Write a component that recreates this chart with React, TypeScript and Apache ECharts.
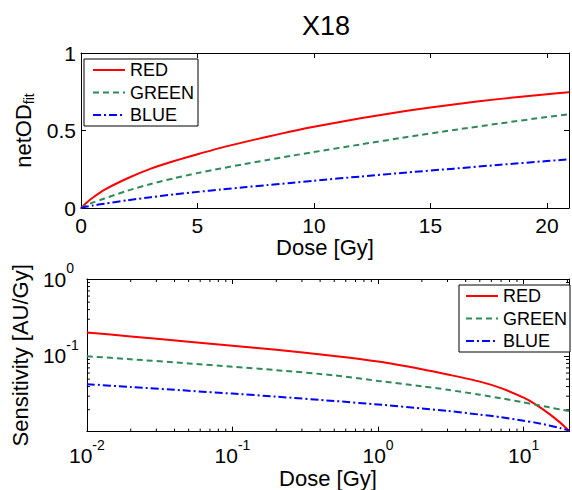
import React, { useEffect, useRef } from 'react';
import * as echarts from 'echarts';

const FONT = 'Liberation Sans';

const seriesNames = ['RED', 'GREEN', 'BLUE'];
const seriesColors = ['#ff0000', '#2e8b57', '#0000ff'];
const seriesDash: any[] = ['solid', [6, 4], [8, 3, 2, 3]];

// Top panel: netOD_fit vs dose (linear axes)
const linDose = [0, 0.25, 0.5, 1, 2, 3, 4, 5, 6, 7, 8, 9, 10, 12, 14, 16, 18, 20, 20.95];
const netODRed = [0, 0.036, 0.066, 0.117, 0.192, 0.254, 0.303, 0.347, 0.388, 0.425, 0.46, 0.493, 0.524, 0.579, 0.627, 0.668, 0.704, 0.734, 0.746];
const netODGreen = [0, 0.02, 0.035, 0.061, 0.112, 0.155, 0.192, 0.225, 0.255, 0.283, 0.31, 0.336, 0.361, 0.41, 0.458, 0.503, 0.546, 0.587, 0.605];
const netODBlue = [0, 0.009, 0.016, 0.028, 0.05, 0.07, 0.088, 0.104, 0.119, 0.134, 0.148, 0.162, 0.176, 0.203, 0.229, 0.254, 0.279, 0.303, 0.314];

// Bottom panel: sensitivity vs dose (log axes)
const logDose = [0.01, 0.02, 0.05, 0.1, 0.2, 0.5, 1, 2, 3, 5, 7, 10, 12, 15, 18, 20.5];
const sensRed = [0.2018, 0.1795, 0.1535, 0.1359, 0.12, 0.0999, 0.0846, 0.0673, 0.0575, 0.0464, 0.0382, 0.0287, 0.0237, 0.0177, 0.0134, 0.0106];
const sensGreen = [0.0991, 0.0906, 0.08, 0.0726, 0.0654, 0.056, 0.0474, 0.0404, 0.0364, 0.0314, 0.0282, 0.0249, 0.0233, 0.0215, 0.0201, 0.0192];
const sensBlue = [0.043, 0.0395, 0.0353, 0.0324, 0.0296, 0.026, 0.0234, 0.0208, 0.0193, 0.0173, 0.016, 0.0144, 0.0136, 0.0125, 0.0115, 0.0108];

const linXMax = 20.95;
const logXMin = 0.01;
const logXMax = 20.5;
const logYMin = 0.0104;
const logYMax = 1;

const xMinorTicks = [0.02, 0.03, 0.04, 0.05, 0.06, 0.07, 0.08, 0.09, 0.2, 0.3, 0.4, 0.5, 0.6, 0.7, 0.8, 0.9, 2, 3, 4, 5, 6, 7, 8, 9, 20];
const yMinorTicks = [0.02, 0.03, 0.04, 0.05, 0.06, 0.07, 0.08, 0.09, 0.2, 0.3, 0.4, 0.5, 0.6, 0.7, 0.8, 0.9];

const powLabel = (v: number) => {
  const e = Math.log10(v);
  const r = Math.round(e);
  if (Math.abs(e - r) > 1e-6) return '';
  return `{b|10}{s|${r < 0 ? '-' : ''}${Math.abs(r)}}`;
};
const powRich = {
  b: { fontSize: 21, lineHeight: 36, fontFamily: FONT, color: '#000' },
  s: { fontSize: 14, lineHeight: 14, verticalAlign: 'top', fontFamily: FONT, color: '#000' },
};

const axisLine = { show: true, onZero: false, lineStyle: { color: '#000', width: 1 } };
const tickIn = { show: true, inside: true, length: 5, lineStyle: { color: '#000', width: 1 } };
const nameStyle = { fontSize: 22, lineHeight: 22, fontFamily: FONT, color: '#000' };

export default function App() {
  const ref = useRef<HTMLDivElement>(null);
  useEffect(() => {
    if (!ref.current) return;
    const chart = echarts.init(ref.current, undefined, { renderer: 'svg' });

    const lineSeries = (names: string[], xi: number, yi: number, xs: number[], ys: number[][]) =>
      names.map((n, i) => ({
        name: n,
        type: 'line',
        xAxisIndex: xi,
        yAxisIndex: yi,
        data: xs.map((x, k) => [x, ys[i][k]]),
        symbol: 'none',
        showSymbol: false,
        smooth: 0.25,
        lineStyle: { color: seriesColors[i], width: 2, type: seriesDash[i] },
        itemStyle: { color: seriesColors[i] },
        z: 3 + i,
      }));

    const legendBase = {
      data: seriesNames,
      orient: 'vertical',
      itemWidth: 32,
      itemHeight: 14,
      itemGap: 0.5,
      borderColor: '#000',
      borderWidth: 1,
      borderRadius: 0,
      backgroundColor: '#fff',
      selectedMode: false,
      itemStyle: { opacity: 0 },
      textStyle: { fontSize: 18, lineHeight: 22, fontFamily: FONT, color: '#000' },
    };

    const option: any = {
      animation: false,
      backgroundColor: '#fff',
      textStyle: { fontFamily: FONT },
      title: {
        text: 'X18',
        left: 326,
        top: 12,
        padding: 0,
        textAlign: 'center',
        textStyle: { fontSize: 27, fontWeight: 'normal', fontFamily: FONT, color: '#000' },
      },
      grid: [
        { left: 81, top: 53, width: 490, height: 155 },
        { left: 81, top: 279, width: 490, height: 155 },
      ],
      legend: [
        { ...legendBase, left: 84, top: 59, padding: [0, 4, 0, 8] },
        { ...legendBase, left: 459, top: 285, padding: [0, 3, 0, 6] },
      ],
      xAxis: [
        {
          type: 'value', gridIndex: 0, min: 0, max: linXMax, interval: 5, position: 'bottom',
          axisLine, axisTick: tickIn, splitLine: { show: false },
          axisLabel: {
            margin: 7, fontSize: 21, lineHeight: 20, fontFamily: FONT, color: '#000',
            formatter: (v: number) => (Math.abs(v % 5) < 1e-9 ? String(v) : ''),
          },
          name: 'Dose [Gy]', nameLocation: 'middle', nameGap: 26.5, nameTextStyle: nameStyle,
        },
        {
          type: 'value', gridIndex: 0, min: 0, max: linXMax, interval: 5, position: 'top',
          axisLine, axisTick: tickIn, splitLine: { show: false }, axisLabel: { show: false },
        },
        {
          type: 'log', logBase: 10, gridIndex: 1, min: logXMin, max: logXMax, position: 'bottom',
          axisLine, axisTick: tickIn, splitLine: { show: false }, minorTick: { show: false },
          axisLabel: { margin: 6, formatter: powLabel, rich: powRich, fontFamily: FONT, color: '#000' },
          name: 'Dose [Gy]', nameLocation: 'middle', nameGap: 33, nameTextStyle: nameStyle,
        },
        {
          type: 'log', logBase: 10, gridIndex: 1, min: logXMin, max: logXMax, position: 'top',
          axisLine, axisTick: tickIn, splitLine: { show: false }, axisLabel: { show: false },
        },
      ],
      yAxis: [
        {
          type: 'value', gridIndex: 0, min: 0, max: 1, interval: 0.5, position: 'left',
          axisLine, axisTick: tickIn, splitLine: { show: false },
          axisLabel: { margin: 5, fontSize: 21, fontFamily: FONT, color: '#000' },
          name: '{n|netOD}{s|fit}', nameLocation: 'middle', nameGap: 41.3,
          nameTextStyle: {
            ...nameStyle,
            rich: {
              n: { fontSize: 22, lineHeight: 24, fontFamily: FONT, color: '#000' },
              s: { fontSize: 14, lineHeight: 14, verticalAlign: 'bottom', fontFamily: FONT, color: '#000' },
            },
          },
        },
        {
          type: 'value', gridIndex: 0, min: 0, max: 1, interval: 0.5, position: 'right',
          axisLine, axisTick: tickIn, splitLine: { show: false }, axisLabel: { show: false },
        },
        {
          type: 'log', logBase: 10, gridIndex: 1, min: logYMin, max: logYMax, position: 'left',
          axisLine, axisTick: tickIn, splitLine: { show: false },
          axisLabel: { margin: 44, align: 'left', formatter: powLabel, rich: powRich, fontFamily: FONT, color: '#000' },
          name: 'Sensitivity [AU/Gy]', nameLocation: 'middle', nameGap: 49.6,
          nameTextStyle: { ...nameStyle, lineHeight: 24 },
        },
        {
          type: 'log', logBase: 10, gridIndex: 1, min: logYMin, max: logYMax, position: 'right',
          axisLine, axisTick: tickIn, splitLine: { show: false }, axisLabel: { show: false },
        },
      ],
      series: [
        ...lineSeries(seriesNames, 0, 0, linDose, [netODRed, netODGreen, netODBlue]),
        ...lineSeries(seriesNames, 2, 2, logDose, [sensRed, sensGreen, sensBlue]),
        {
          type: 'custom',
          xAxisIndex: 2,
          yAxisIndex: 2,
          silent: true,
          z: 2,
          data: xMinorTicks.map((v) => [v, logYMin]),
          encode: { x: 0, y: 1 },
          renderItem: (_p: any, api: any) => {
            const v = api.value(0);
            const b = api.coord([v, logYMin]);
            const t = api.coord([v, logYMax]);
            return {
              type: 'group',
              children: [
                { type: 'line', shape: { x1: b[0], y1: b[1], x2: b[0], y2: b[1] - 3 }, style: { stroke: '#000', lineWidth: 1 } },
                { type: 'line', shape: { x1: t[0], y1: t[1], x2: t[0], y2: t[1] + 3 }, style: { stroke: '#000', lineWidth: 1 } },
              ],
            };
          },
        },
        {
          type: 'custom',
          xAxisIndex: 2,
          yAxisIndex: 2,
          silent: true,
          z: 2,
          data: yMinorTicks.map((v) => [logXMin, v]),
          encode: { x: 0, y: 1 },
          renderItem: (_p: any, api: any) => {
            const v = api.value(1);
            const l = api.coord([logXMin, v]);
            const r = api.coord([logXMax, v]);
            return {
              type: 'group',
              children: [
                { type: 'line', shape: { x1: l[0], y1: l[1], x2: l[0] + 3, y2: l[1] }, style: { stroke: '#000', lineWidth: 1 } },
                { type: 'line', shape: { x1: r[0], y1: r[1], x2: r[0] - 3, y2: r[1] }, style: { stroke: '#000', lineWidth: 1 } },
              ],
            };
          },
        },
      ],
    };

    chart.setOption(option);
    return () => chart.dispose();
  }, []);

  return <div ref={ref} style={{ position: 'fixed', left: 0, top: 0, width: 572, height: 490 }} />;
}
